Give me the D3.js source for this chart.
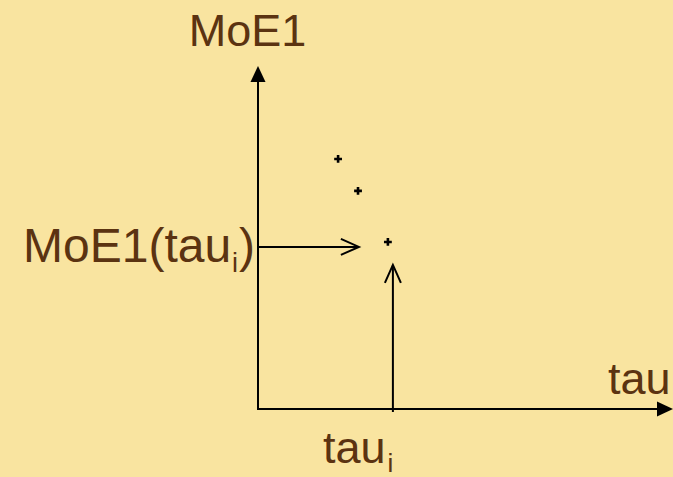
<!DOCTYPE html>
<html><head><meta charset="utf-8">
<script src="https://cdn.jsdelivr.net/npm/d3@7"></script>
<style>html,body{margin:0;padding:0;background:#F9E4A0;}svg{display:block;}</style>
</head><body>
<script>
// Data (arbitrary units)
const pointTau = [19.3, 24.1, 31.3];
const pointMoE = [72.9, 63.6, 48.7];
const highlightIndex = 2;
const xLabel = "tau";
const yLabel = "MoE1";
const xMarkLabel = "tau";
const yMarkLabel = "MoE1(tau";
const subLabel = "i";

const W = 673, H = 477;
const svg = d3.select("body").append("svg").attr("width", W).attr("height", H);
svg.append("rect").attr("width", W).attr("height", H).attr("fill", "#F9E4A0");

const x = d3.scaleLinear().domain([0, 100]).range([258, 673]);
const y = d3.scaleLinear().domain([0, 100]).range([409, 66]);

const textColor = "#5B3311";
const font = "Liberation Sans, Arial, sans-serif";

// axes
svg.append("line").attr("x1", x(0)).attr("x2", x(100) - 12).attr("y1", y(0)).attr("y2", y(0))
  .attr("stroke", "#000").attr("stroke-width", 2);
svg.append("path").attr("d", `M${x(100)},${y(0)} L${x(100)-16},${y(0)-7.5} L${x(100)-16},${y(0)+7.5} Z`).attr("fill", "#000");
svg.append("line").attr("x1", x(0)).attr("x2", x(0)).attr("y1", y(0)+1).attr("y2", y(100) + 12)
  .attr("stroke", "#000").attr("stroke-width", 2);
svg.append("path").attr("d", `M${x(0)},${y(100)} L${x(0)-7.5},${y(100)+16} L${x(0)+7.5},${y(100)+16} Z`).attr("fill", "#000");

// points
svg.selectAll("path.pt").data(pointTau).join("path").attr("class", "pt")
  .attr("transform", (d, i) => `translate(${x(d)},${y(pointMoE[i])})`)
  .attr("d", d3.symbol(d3.symbolCross, 34)).attr("fill", "#000");

// annotation arrows
const hx = x(pointTau[highlightIndex]), hy = y(pointMoE[highlightIndex]);
const ay = hy + 5, ax = hx + 5;
const arrowG = svg.append("g").attr("stroke", "#000").attr("stroke-width", 2).attr("fill", "none");
// horizontal
arrowG.append("line").attr("x1", x(0)).attr("x2", hx - 29).attr("y1", ay).attr("y2", ay);
arrowG.append("path").attr("d", `M${hx-47},${ay-8} L${hx-29},${ay} L${hx-47},${ay+8}`);
// vertical
arrowG.append("line").attr("x1", ax).attr("x2", ax).attr("y1", y(0)+3).attr("y2", hy + 23);
arrowG.append("path").attr("d", `M${ax-8},${hy+41} L${ax},${hy+23} L${ax+8},${hy+41}`);

// labels
const fs = 45;
svg.append("text").attr("x", 247.5).attr("y", 46).attr("text-anchor", "middle")
  .attr("font-family", font).attr("font-size", fs).attr("fill", textColor).text(yLabel);
svg.append("text").attr("x", 608).attr("y", 394)
  .attr("font-family", font).attr("font-size", fs).attr("fill", textColor).text(xLabel);

const t1 = svg.append("text").attr("x", 23).attr("y", 262)
  .attr("font-family", font).attr("font-size", 48).attr("fill", textColor);
t1.append("tspan").text(yMarkLabel);
t1.append("tspan").attr("font-size", 27).attr("dx", 1).attr("dy", 10).text(subLabel);
t1.append("tspan").attr("dx", 1).attr("dy", -10).text(")");

const t2 = svg.append("text").attr("x", 323).attr("y", 463)
  .attr("font-family", font).attr("font-size", fs).attr("fill", textColor);
t2.append("tspan").text(xMarkLabel);
t2.append("tspan").attr("font-size", 26).attr("dx", 2).attr("dy", 9).text(subLabel);
</script>
</body></html>
